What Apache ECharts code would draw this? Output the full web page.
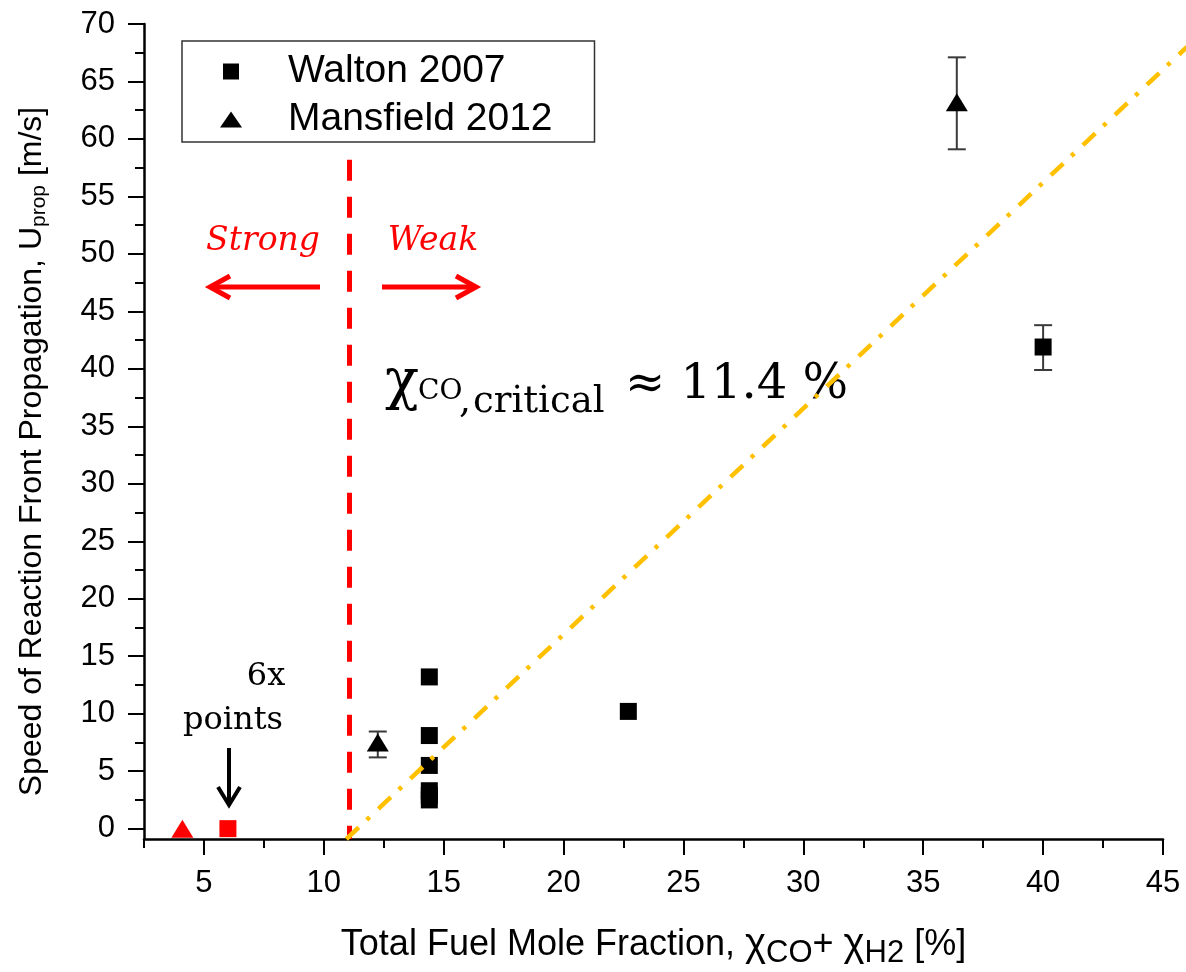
<!DOCTYPE html>
<html>
<head>
<meta charset="utf-8">
<script src="https://cdn.jsdelivr.net/npm/echarts@6/dist/echarts.min.js"></script>
<style>
  html, body { margin: 0; padding: 0; background: #fff; }
  #main { width: 1186px; height: 972px; }
</style>
</head>
<body>
<div id="main"></div>
<script>
// Axis tick values
const xMajorTicks = [5, 10, 15, 20, 25, 30, 35, 40, 45];
const xMinorTicks = [2.5, 7.5, 12.5, 17.5, 22.5, 27.5, 32.5, 37.5, 42.5];
const yMajorTicks = [0, 5, 10, 15, 20, 25, 30, 35, 40, 45, 50, 55, 60, 65, 70];
const yMinorTicks = [2.5, 7.5, 12.5, 17.5, 22.5, 27.5, 32.5, 37.5, 42.5, 47.5, 52.5, 57.5, 62.5, 67.5];

// Walton 2007: [fuel mole fraction %, propagation speed m/s]
const waltonPoints = [
  [14.4, 13.2], [14.4, 8.1], [14.4, 5.5], [14.4, 3.3], [14.4, 2.9], [14.4, 2.5],
  [22.7, 10.2], [40.0, 41.9]
];
// Walton 2007 error bars: [x, low, high]
const waltonErrors = [[40.0, 39.9, 43.8]];

// Mansfield 2012
const mansfieldPoints = [[12.25, 7.5], [36.4, 63.2]];
const mansfieldErrors = [[12.25, 6.2, 8.45], [36.4, 59.1, 67.1]];

// Cases with no propagation (6 points each, overlapping)
const noPropTriangle = [[4.1, 0]];
const noPropSquare = [[6.0, 0]];

// Strong / weak ignition boundary and the linear trend through the weak cases
const boundaryLine = [[11.07, 58.2], [11.07, -0.9]];
const trendLine = [[10.94, -0.9], [46.0, 68.0]];

const sansFont = 'Liberation Sans';
const red = '#ff0000';

function errorBars(params, api) {
  const x = api.value(0);
  const lo = api.coord([x, api.value(1)]);
  const hi = api.coord([x, api.value(2)]);
  const half = 9;
  const style = { stroke: '#3a3a3a', lineWidth: 2 };
  return {
    type: 'group',
    children: [
      { type: 'line', shape: { x1: lo[0], y1: lo[1], x2: hi[0], y2: hi[1] }, style },
      { type: 'line', shape: { x1: lo[0] - half, y1: lo[1], x2: lo[0] + half, y2: lo[1] }, style },
      { type: 'line', shape: { x1: hi[0] - half, y1: hi[1], x2: hi[0] + half, y2: hi[1] }, style }
    ]
  };
}

// Dash-dot trend segment; it runs on past the end of the x axis
function trendSegment(params, api) {
  const p1 = api.coord([api.value(0), api.value(1)]);
  const p2 = api.coord([api.value(2), api.value(3)]);
  return {
    type: 'line',
    shape: { x1: p1[0], y1: p1[1], x2: p2[0], y2: p2[1] },
    style: { stroke: '#ffc000', lineWidth: 4.5, lineDash: [17, 11, 4, 12], lineCap: 'butt' }
  };
}

const chart = echarts.init(document.getElementById('main'), null, { renderer: 'canvas' });

const option = {
  backgroundColor: '#ffffff',
  animation: false,
  grid: { left: 144, right: 23, top: 24, bottom: 133, containLabel: false, outerBoundsMode: 'none' },
  legend: {
    orient: 'vertical',
    left: 182,
    top: 41,
    padding: [11, 42, 3, 38],
    borderColor: '#333',
    borderWidth: 1.5,
    itemWidth: 22,
    itemHeight: 16,
    itemGap: 9,
    textStyle: { fontFamily: sansFont, fontSize: 39, color: '#000', lineHeight: 39, padding: [0, 0, 0, 41] },
    data: [
      { name: 'Walton 2007', icon: 'path://M0,0H10V10H0Z' },
      { name: 'Mansfield 2012', icon: 'triangle' }
    ],
    selectedMode: false
  },
  xAxis: [
    {
      type: 'value', min: 2.5, max: 45, position: 'bottom',
      name: '{t|Total Fuel Mole Fraction, }{chi|χ}{sub|CO}{t|+ }{chi|χ}{sub|H2}{t| [%]}',
      nameLocation: 'middle',
      nameGap: 82,
      nameTextStyle: {
        fontFamily: sansFont, fontSize: 36, color: '#000',
        rich: {
          t: { fontFamily: sansFont, fontSize: 36, color: '#000' },
          chi: { fontFamily: sansFont, fontSize: 40, color: '#000' },
          sub: { fontFamily: sansFont, fontSize: 31, color: '#000', padding: [17, 0, 0, 0] }
        }
      },
      axisLine: { onZero: false, lineStyle: { color: '#000', width: 2.5 } },
      axisTick: { customValues: xMajorTicks, length: 16, lineStyle: { color: '#000', width: 2 } },
      axisLabel: { customValues: xMajorTicks, fontFamily: sansFont, fontSize: 31, color: '#000', margin: 29 },
      splitLine: { show: false }
    },
    {
      type: 'value', min: 2.5, max: 45, position: 'bottom',
      axisLine: { show: false, onZero: false },
      axisTick: { customValues: xMinorTicks, length: 9, lineStyle: { color: '#000', width: 2 } },
      axisLabel: { show: false },
      splitLine: { show: false }
    }
  ],
  yAxis: [
    {
      type: 'value', min: -0.9, max: 70, position: 'left',
      name: '{t|Speed of Reaction Front Propagation, U}{sub|prop}{t| [m/s]}',
      nameLocation: 'middle',
      nameGap: 94,
      nameTextStyle: {
        fontFamily: sansFont, fontSize: 32, color: '#000',
        padding: [0, 40, 0, 0],
        rich: {
          t: { fontFamily: sansFont, fontSize: 32, color: '#000' },
          sub: { fontFamily: sansFont, fontSize: 21, color: '#000', padding: [15, 0, 0, 0] }
        }
      },
      axisLine: { onZero: false, lineStyle: { color: '#000', width: 2.5 } },
      axisTick: { customValues: yMajorTicks, length: 16, lineStyle: { color: '#000', width: 2 } },
      axisLabel: { customValues: yMajorTicks, fontFamily: sansFont, fontSize: 31, color: '#000', margin: 29 },
      splitLine: { show: false }
    },
    {
      type: 'value', min: -0.9, max: 70, position: 'left',
      axisLine: { show: false, onZero: false },
      axisTick: { customValues: yMinorTicks, length: 9, lineStyle: { color: '#000', width: 2 } },
      axisLabel: { show: false },
      splitLine: { show: false }
    }
  ],
  series: [
    {
      name: 'Boundary', type: 'line', data: boundaryLine, symbol: 'none', z: 2,
      lineStyle: { color: red, width: 5, type: [21, 16] }, silent: true
    },
    {
      name: 'Walton error', type: 'custom', renderItem: errorBars, data: waltonErrors,
      encode: { x: 0, y: [1, 2] }, z: 1, silent: true
    },
    {
      name: 'Mansfield error', type: 'custom', renderItem: errorBars, data: mansfieldErrors,
      encode: { x: 0, y: [1, 2] }, z: 1, silent: true
    },
    {
      name: 'Walton 2007', type: 'scatter', data: waltonPoints, symbol: 'rect', symbolSize: 17,
      itemStyle: { color: '#000', opacity: 1 }, z: 3
    },
    {
      name: 'Mansfield 2012', type: 'scatter', data: mansfieldPoints, symbol: 'triangle', symbolSize: [22, 18],
      itemStyle: { color: '#000', opacity: 1 }, z: 3
    },
    {
      name: 'No propagation (triangle)', type: 'scatter', data: noPropTriangle, symbol: 'triangle', symbolSize: [22, 18],
      itemStyle: { color: red, opacity: 1 }, z: 3
    },
    {
      name: 'No propagation (square)', type: 'scatter', data: noPropSquare, symbol: 'rect', symbolSize: 17,
      itemStyle: { color: red, opacity: 1 }, z: 3
    },
    {
      name: 'Trend', type: 'custom', renderItem: trendSegment,
      data: [[trendLine[0][0], trendLine[0][1], trendLine[1][0], trendLine[1][1]]],
      encode: { x: [0, 2], y: [1, 3] }, clip: false, z: 4, silent: true
    }
  ],
  graphic: [
    // Strong / Weak regime labels with arrows
    { type: 'text', x: 263, y: 241, style: { text: 'Strong', fill: red, font: 'italic 33px "DejaVu Serif"', align: 'center', verticalAlign: 'middle' } },
    { type: 'text', x: 433, y: 241, style: { text: 'Weak', fill: red, font: 'italic 33px "DejaVu Serif"', align: 'center', verticalAlign: 'middle' } },
    { type: 'polyline', shape: { points: [[320, 287], [211, 287]] }, style: { stroke: red, lineWidth: 5 } },
    { type: 'polyline', shape: { points: [[230, 276], [210, 287], [230, 298]] }, style: { stroke: red, lineWidth: 5, lineJoin: 'miter' } },
    { type: 'polyline', shape: { points: [[382, 287], [475, 287]] }, style: { stroke: red, lineWidth: 5 } },
    { type: 'polyline', shape: { points: [[456, 276], [476, 287], [456, 298]] }, style: { stroke: red, lineWidth: 5, lineJoin: 'miter' } },
    // Critical fraction annotation
    { type: 'text', x: 385, y: 383, style: { text: 'χ', fill: '#000', font: '56px "DejaVu Serif"', verticalAlign: 'middle' } },
    { type: 'text', x: 418, y: 392, style: { text: 'CO', fill: '#000', font: '28px "DejaVu Serif"', verticalAlign: 'middle' } },
    { type: 'text', x: 459, y: 402, style: { text: ',', fill: '#000', font: '38px "DejaVu Serif"', verticalAlign: 'middle' } },
    { type: 'text', x: 473, y: 402, style: { text: 'critical', fill: '#000', font: '37px "DejaVu Serif"', verticalAlign: 'middle' } },
    { type: 'text', x: 625, y: 386, style: { text: '≈ 11.4 %', fill: '#000', font: '48px "DejaVu Serif"', verticalAlign: 'middle' } },
    // Overlapping points note
    { type: 'text', x: 266, y: 677, style: { text: '6x', fill: '#000', font: '32px "DejaVu Serif"', align: 'center', verticalAlign: 'middle' } },
    { type: 'text', x: 233, y: 721, style: { text: 'points', fill: '#000', font: '32px "DejaVu Serif"', align: 'center', verticalAlign: 'middle' } },
    { type: 'polyline', shape: { points: [[229, 748], [229, 804]] }, style: { stroke: '#000', lineWidth: 4 } },
    { type: 'polyline', shape: { points: [[218, 787], [229, 805], [240, 787]] }, style: { stroke: '#000', lineWidth: 4 } }
  ]
};

chart.setOption(option);
</script>
</body>
</html>
